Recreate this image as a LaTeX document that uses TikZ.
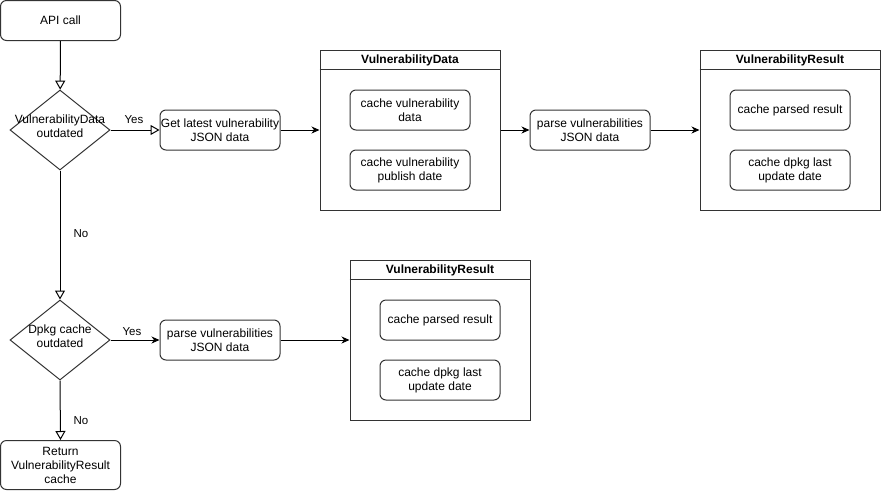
\documentclass[tikz,border=0pt]{standalone}
\usepackage{fontspec}
\setmainfont{Liberation Sans}
\usetikzlibrary{arrows.meta,shapes.geometric}
\tikzset{
  base/.style={draw=black!80, line width=1pt, align=center, inner sep=0pt, font=\fontsize{12}{14}\selectfont},
  box/.style={base, rounded corners=6pt, minimum width=120pt, minimum height=40pt},
  dia/.style={draw=black!80, line width=1pt, diamond, minimum width=100pt, minimum height=80pt, inner sep=0pt},
  cont/.style={draw=black!80, line width=1pt, rectangle, minimum width=180pt, minimum height=160pt, inner sep=0pt},
  ttl/.style={font=\fontsize{12}{14}\selectfont\bfseries, inner sep=0pt},
  txt/.style={font=\fontsize{12}{14}\selectfont, align=center, inner sep=0pt},
  lbl/.style={font=\fontsize{11.5}{13}\selectfont, inner sep=0pt},
  openarr/.style={draw=black, line width=1pt, -{Triangle[open, length=9pt, width=10pt]}},
  fillarr/.style={draw=black, line width=1pt, -{Stealth[length=8pt, width=7pt, inset=2.5pt]}},
}
\begin{document}
\begin{tikzpicture}[x=1pt,y=-1pt]
\useasboundingbox (0,0) rectangle (881,491);
% left column
\node[box] (api) at (60.5,20.5) {API call};
\node[dia] (d1) at (60,130) {};
\node[txt] (d1t) at ([yshift=4pt]d1.center) {VulnerabilityData\\outdated};
\node[dia] (d2) at (60,340) {};
\node[txt] (d2t) at ([yshift=3.5pt]d2.center) {Dpkg cache\\outdated};
\node[box, minimum height=49pt] (ret) at (60.5,465) {Return\\VulnerabilityResult\\cache};
% middle row top
\node[box] (get) at (220,130) {Get latest vulnerability\\JSON data};
\node[cont] (c1) at (410,130) {};
\draw[draw=black!80, line width=1pt] ([yshift=-20pt]c1.north west) -- ([yshift=-20pt]c1.north east);
\node[ttl] (c1t) at (410,60) {VulnerabilityData};
\node[box] (c1a) at (410,110) {cache vulnerability\\data};
\node[box] (c1b) at (410,170) {cache vulnerability\\publish date};
\node[box] (p1) at (590,130) {parse vulnerabilities\\JSON data};
\node[cont] (c2) at (790,130) {};
\draw[draw=black!80, line width=1pt] ([yshift=-20pt]c2.north west) -- ([yshift=-20pt]c2.north east);
\node[ttl] (c2t) at (790,60) {VulnerabilityResult};
\node[box] (c2a) at (790,110) {cache parsed result};
\node[box] (c2b) at (790,170) {cache dpkg last\\update date};
% lower row
\node[box] (p2) at (220,340) {parse vulnerabilities\\JSON data};
\node[cont] (c3) at (440,340) {};
\draw[draw=black!80, line width=1pt] ([yshift=-20pt]c3.north west) -- ([yshift=-20pt]c3.north east);
\node[ttl] (c3t) at (440,270) {VulnerabilityResult};
\node[box] (c3a) at (440,320) {cache parsed result};
\node[box] (c3b) at (440,380) {cache dpkg last\\update date};
% connectors
\draw[openarr] (api) -- (d1);
\draw[openarr] (d1.east) -- (get.west);
\draw[openarr] (d1.south) -- (d2.north);
\draw[openarr] (d2.south) -- (ret.north);
\draw[fillarr] (get.east) -- (c1.west);
\draw[fillarr] (c1.east) -- (p1.west);
\draw[fillarr] (p1.east) -- (c2.west);
\draw[fillarr] (d2.east) -- (p2.west);
\draw[fillarr] (p2.east) -- (c3.west);
% labels
\node[lbl] (l1) at (134,120) {Yes};
\node[lbl] (l2) at (81,234) {No};
\node[lbl] (l3) at (132,332) {Yes};
\node[lbl] (l4) at (81,421) {No};
\end{tikzpicture}
\end{document}
